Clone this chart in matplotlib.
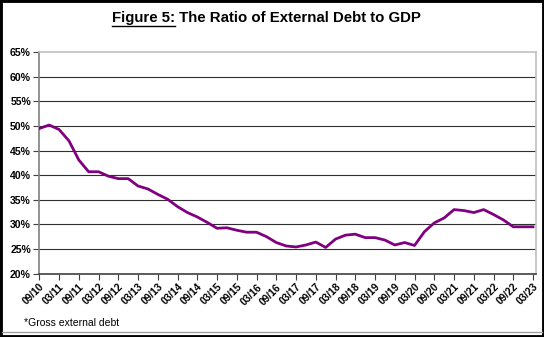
import matplotlib
matplotlib.use('Agg')
import matplotlib.pyplot as plt
from matplotlib.lines import Line2D
from matplotlib.patches import Rectangle

plt.rcParams['font.family'] = ['Liberation Sans', 'DejaVu Sans']

# quarterly data, 09/10 .. 03/23 (51 quarters)
ratio = [49.5, 50.2, 49.3, 47.0, 43.1, 40.7, 40.7, 39.8, 39.3, 39.3,
         37.8, 37.2, 36.1, 35.1, 33.6, 32.4, 31.5, 30.4, 29.2, 29.3,
         28.8, 28.4, 28.4, 27.5, 26.3, 25.6, 25.4, 25.8, 26.4, 25.3,
         27.0, 27.8, 28.0, 27.3, 27.3, 26.8, 25.8, 26.3, 25.7, 28.5,
         30.3, 31.3, 33.0, 32.8, 32.4, 33.0, 32.0, 30.9, 29.5, 29.5,
         29.5]
tick_labels = ['09/10', '03/11', '09/11', '03/12', '09/12', '03/13', '09/13',
               '03/14', '09/14', '03/15', '09/15', '03/16', '09/16', '03/17',
               '09/17', '03/18', '09/18', '03/19', '09/19', '03/20', '09/20',
               '03/21', '09/21', '03/22', '09/22', '03/23']
y_ticks = [20, 25, 30, 35, 40, 45, 50, 55, 60, 65]

W, H = 544, 337
fig = plt.figure(figsize=(W / 100, H / 100), dpi=100)
fig.patch.set_facecolor('white')

ax = fig.add_axes([39.3 / W, 1 - 273.5 / H, (536 - 39.3) / W, (273.5 - 52.3) / H])
x = list(range(len(ratio)))
ax.plot(x, ratio, color='#800080', lw=2.0, solid_joinstyle='round', zorder=3)

ax.set_xlim(0, 50.3)
ax.set_ylim(20, 65)
ax.set_yticks(y_ticks)
ax.set_yticklabels([f'{v}%' for v in y_ticks], fontsize=7.6, fontweight='bold')
ax.set_xticks(range(0, len(ratio), 2))
ax.set_xticklabels(tick_labels, rotation=45, ha='right', rotation_mode='anchor',
                   fontsize=7.3, fontweight='bold')
ax.tick_params(axis='both', direction='out', length=4, width=0.8, color='#404040', pad=2)

for v in y_ticks[1:-1]:
    ax.axhline(v, color='#303030', lw=0.8, zorder=1)

ax.spines['left'].set_color('#808080')
ax.spines['bottom'].set_color('#404040')
ax.spines['top'].set_color('#c0c0c0')
ax.spines['right'].set_color('#c0c0c0')
for s in ax.spines.values():
    s.set_linewidth(1.2)

# title with underlined first part
ty = 1 - 18 / H
t1 = fig.text(0, ty, 'Figure 5:', fontsize=10.8, fontweight='bold', va='center')
t2 = fig.text(0, ty, ' The Ratio of External Debt to GDP', fontsize=10.8,
              fontweight='bold', va='center')
r = fig.canvas.get_renderer()
w1 = t1.get_window_extent(r).width
w2 = t2.get_window_extent(r).width
x0 = 266.5 - (w1 + w2) / 2
t1.set_x(x0 / W)
t2.set_x((x0 + w1) / W)
b = t1.get_window_extent(r)
fig.add_artist(Line2D([x0 / W, (x0 + w1) / W], [(b.y0 - 1) / H] * 2,
                      color='black', lw=1.0))

fig.text(24 / W, 1 - 323 / H, '*Gross external debt', fontsize=7.5, va='center')

# frame
fig.add_artist(Line2D([0.004, 0.996], [1 - 332 / H] * 2, color='#a0a0a0', lw=1.0))
fig.add_artist(Rectangle((0, 0), 1, 1, transform=fig.transFigure, fill=False,
                         edgecolor='black', lw=3.5))

fig.savefig('out.png', dpi=100)
